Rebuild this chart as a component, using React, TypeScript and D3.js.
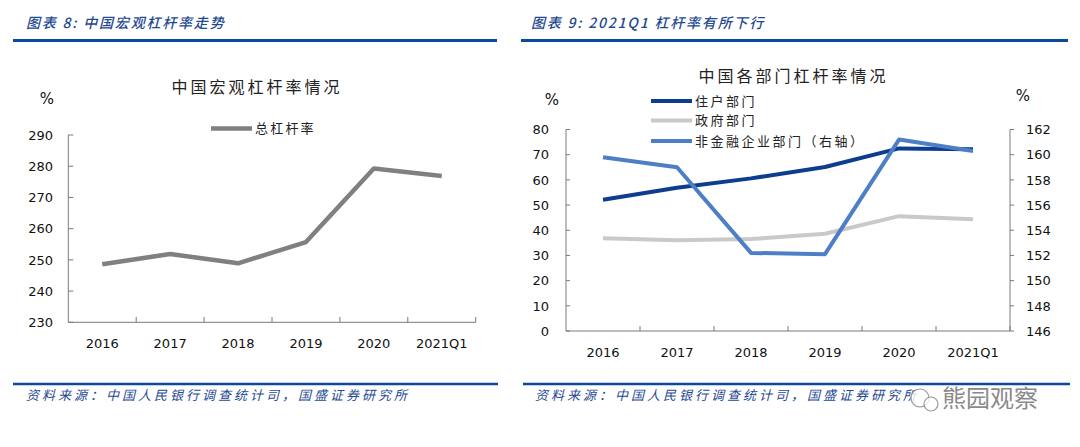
import React from "react";
import * as d3 from "d3";

const categories = ["2016", "2017", "2018", "2019", "2020", "2021Q1"];
const totalLeverage = [248.6, 251.9, 248.9, 255.7, 279.3, 276.9];
const householdLev = [52.1, 56.9, 60.6, 65.1, 72.5, 72.2];
const governmentLev = [36.8, 36.0, 36.5, 38.6, 45.6, 44.4];
const corporateLev = [159.8, 159.0, 152.2, 152.1, 161.2, 160.3];
const leftTicks = [230, 240, 250, 260, 270, 280, 290];
const rightChartLeftTicks = [0, 10, 20, 30, 40, 50, 60, 70, 80];
const rightChartRightTicks = [146, 148, 150, 152, 154, 156, 158, 160, 162];

const BLUE_HDR = "#0A4A9C";
const TXT_BLUE = "#1F4A92";
const AXIS = "#7a7a7a";
const NUM_FONT = "'DejaVu Sans', Verdana, sans-serif";
const CJK = "'Noto Sans CJK SC', sans-serif";

export default function App() {
  // left chart
  const lx = d3.scaleBand<string>().domain(categories).range([68.3, 475.7]);
  const ly = d3.scaleLinear().domain([230, 290]).range([322.3, 135]);
  const leftLine = d3
    .line<number>()
    .x((_, i) => (lx(categories[i]) as number) + lx.bandwidth() / 2)
    .y((d) => ly(d));

  // right chart
  const rx = d3.scaleBand<string>().domain(categories).range([566, 1010]);
  const ry = d3.scaleLinear().domain([0, 80]).range([331, 129.5]);
  const ry2 = d3.scaleLinear().domain([146, 162]).range([331, 129.5]);
  const rLine = (scale: d3.ScaleLinear<number, number>) =>
    d3
      .line<number>()
      .x((_, i) => (rx(categories[i]) as number) + rx.bandwidth() / 2)
      .y((d) => scale(d));

  const bandEdges = (sc: d3.ScaleBand<string>) =>
    categories.map((c) => (sc(c) as number) + sc.bandwidth());

  return (
    <svg
      width={1080}
      height={447}
      style={{ position: "absolute", left: 0, top: 0, background: "#fff" }}
    >
      {/* headers */}
      <text x={26} y={28} fontFamily={CJK} fontStyle="italic" fontWeight={500} fontSize={14} letterSpacing={1.8} fill={TXT_BLUE}>
        图表 8:  中国宏观杠杆率走势
      </text>
      <line x1={13} x2={497} y1={40.5} y2={40.5} stroke={BLUE_HDR} strokeWidth={3} />
      <text x={531} y={28} fontFamily={CJK} fontStyle="italic" fontWeight={500} fontSize={14} letterSpacing={1.8} fill={TXT_BLUE}>
        图表 9:  2021Q1 杠杆率有所下行
      </text>
      <line x1={521} x2={1068} y1={40.5} y2={40.5} stroke={BLUE_HDR} strokeWidth={3} />

      {/* footers */}
      <line x1={13} x2={498} y1={384} y2={384} stroke={BLUE_HDR} strokeWidth={2.5} />
      <text x={26} y={400} fontFamily={CJK} fontStyle="italic" fontSize={13} letterSpacing={3} fill={TXT_BLUE}>
        资料来源：中国人民银行调查统计司，国盛证券研究所
      </text>
      <line x1={523} x2={1070} y1={384} y2={384} stroke={BLUE_HDR} strokeWidth={2.5} />
      <text x={535} y={400} fontFamily={CJK} fontStyle="italic" fontSize={13} letterSpacing={3} fill={TXT_BLUE}>
        资料来源：中国人民银行调查统计司，国盛证券研究所
      </text>
      {/* watermark */}
      <g>
        <circle cx={920} cy={398} r={9} fill="#fff" fillOpacity={0.8} stroke="#9a9a9a" strokeWidth={1.2} />
        <circle cx={931} cy={404} r={7} fill="#fff" fillOpacity={0.8} stroke="#9a9a9a" strokeWidth={1.2} />
        <text x={942} y={407} fontFamily={CJK} fontSize={24} fill="#8a8a8a">
          熊园观察
        </text>
      </g>

      {/* ===== LEFT CHART ===== */}
      <text x={257} y={93} textAnchor="middle" fontFamily={CJK} fontSize={16} letterSpacing={3} fill="#222">
        中国宏观杠杆率情况
      </text>
      <text x={47} y={104} textAnchor="middle" fontFamily={NUM_FONT} fontSize={15} fill="#111">
        %
      </text>
      {/* legend */}
      <line x1={211} x2={252} y1={128.5} y2={128.5} stroke="#808080" strokeWidth={4.5} />
      <text x={255} y={133} fontFamily={CJK} fontSize={13} letterSpacing={2.2} fill="#222">
        总杠杆率
      </text>
      {/* axes */}
      <line x1={68.3} x2={68.3} y1={135} y2={322.3} stroke={AXIS} />
      <line x1={68.3} x2={475.7} y1={322.3} y2={322.3} stroke={AXIS} />
      {leftTicks.map((t) => (
        <g key={t}>
          <line x1={68.3} x2={73.3} y1={ly(t)} y2={ly(t)} stroke={AXIS} />
          <text x={53} y={ly(t) + 4.7} textAnchor="end" fontFamily={NUM_FONT} fontSize={13} fill="#111">
            {t}
          </text>
        </g>
      ))}
      {bandEdges(lx).map((x, i) => (
        <line key={i} x1={x} x2={x} y1={322.3} y2={317} stroke={AXIS} />
      ))}
      {categories.map((c) => (
        <text
          key={c}
          x={(lx(c) as number) + lx.bandwidth() / 2}
          y={348}
          textAnchor="middle"
          fontFamily={NUM_FONT}
          fontSize={13}
          fill="#111"
        >
          {c}
        </text>
      ))}
      <path d={leftLine(totalLeverage) || ""} fill="none" stroke="#808080" strokeWidth={4.5} strokeLinejoin="round" />

      {/* ===== RIGHT CHART ===== */}
      <text x={793.5} y={82} textAnchor="middle" fontFamily={CJK} fontSize={16} letterSpacing={3} fill="#222">
        中国各部门杠杆率情况
      </text>
      <text x={552} y={105} textAnchor="middle" fontFamily={NUM_FONT} fontSize={15} fill="#111">
        %
      </text>
      <text x={1023} y={101} textAnchor="middle" fontFamily={NUM_FONT} fontSize={15} fill="#111">
        %
      </text>
      {/* legend */}
      <line x1={651} x2={692} y1={101} y2={101} stroke="#0C3D8E" strokeWidth={4} />
      <text x={695} y={105.5} fontFamily={CJK} fontSize={13} letterSpacing={2.5} fill="#222">住户部门</text>
      <line x1={651} x2={692} y1={120.5} y2={120.5} stroke="#C9C9C9" strokeWidth={4} />
      <text x={695} y={125} fontFamily={CJK} fontSize={13} letterSpacing={2.5} fill="#222">政府部门</text>
      <line x1={651} x2={692} y1={141} y2={141} stroke="#4C7FC5" strokeWidth={4} />
      <text x={695} y={145.5} fontFamily={CJK} fontSize={13} letterSpacing={2.5} fill="#222">非金融企业部门（右轴）</text>

      {/* axes */}
      <line x1={566} x2={566} y1={129.5} y2={331} stroke={AXIS} />
      <line x1={1010} x2={1010} y1={129.5} y2={331} stroke={AXIS} />
      <line x1={566} x2={1010} y1={331} y2={331} stroke={AXIS} />
      {rightChartLeftTicks.map((t) => (
        <g key={t}>
          <line x1={566} x2={570} y1={ry(t)} y2={ry(t)} stroke={AXIS} />
          <text x={549} y={ry(t) + 4.7} textAnchor="end" fontFamily={NUM_FONT} fontSize={13} fill="#111">
            {t}
          </text>
        </g>
      ))}
      {rightChartRightTicks.map((t) => (
        <g key={t}>
          <line x1={1010} x2={1014} y1={ry2(t)} y2={ry2(t)} stroke={AXIS} />
          <text x={1026} y={ry2(t) + 4.7} textAnchor="start" fontFamily={NUM_FONT} fontSize={13} fill="#111">
            {t}
          </text>
        </g>
      ))}
      {bandEdges(rx).map((x, i) => (
        <line key={i} x1={x} x2={x} y1={331} y2={326} stroke={AXIS} />
      ))}
      {categories.map((c) => (
        <text
          key={c}
          x={(rx(c) as number) + rx.bandwidth() / 2}
          y={356.5}
          textAnchor="middle"
          fontFamily={NUM_FONT}
          fontSize={13}
          fill="#111"
        >
          {c}
        </text>
      ))}
      <path d={rLine(ry)(governmentLev) || ""} fill="none" stroke="#C9C9C9" strokeWidth={4} strokeLinejoin="round" />
      <path d={rLine(ry)(householdLev) || ""} fill="none" stroke="#0C3D8E" strokeWidth={4} strokeLinejoin="round" />
      <path d={rLine(ry2)(corporateLev) || ""} fill="none" stroke="#4C7FC5" strokeWidth={4} strokeLinejoin="round" />
    </svg>
  );
}
